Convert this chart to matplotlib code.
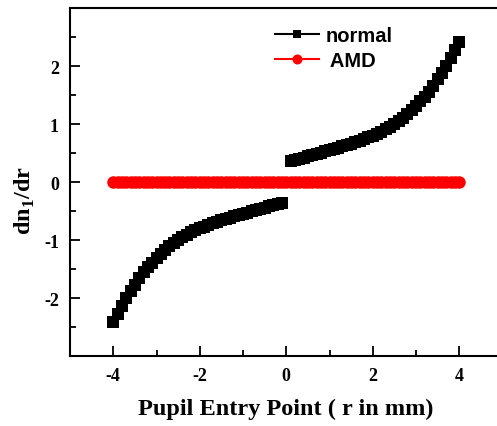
import matplotlib
matplotlib.use("Agg")
import matplotlib.pyplot as plt
from matplotlib.ticker import MultipleLocator

plt.rcParams["axes.unicode_minus"] = False
plt.rcParams["mathtext.fontset"] = "custom"
plt.rcParams["mathtext.bf"] = "Liberation Serif:bold"
plt.rcParams["mathtext.rm"] = "Liberation Serif:bold"

# ---- data ----
r_neg = [-4.0, -3.9, -3.8, -3.7, -3.6, -3.5, -3.4, -3.3, -3.2, -3.1,
         -3.0, -2.9, -2.8, -2.7, -2.6, -2.5, -2.4, -2.3, -2.2, -2.1,
         -2.0, -1.9, -1.8, -1.7, -1.6, -1.5, -1.4, -1.3, -1.2, -1.1,
         -1.0, -0.9, -0.8, -0.7, -0.6, -0.5, -0.4, -0.3, -0.2, -0.1]
normal_neg = [-2.42, -2.27, -2.13, -2.00, -1.88, -1.77, -1.66, -1.56, -1.47, -1.39,
              -1.31, -1.24, -1.17, -1.11, -1.05, -1.00, -0.95, -0.91, -0.87, -0.83,
              -0.80, -0.77, -0.74, -0.71, -0.69, -0.66, -0.64, -0.62, -0.59, -0.57,
              -0.55, -0.53, -0.50, -0.48, -0.46, -0.44, -0.42, -0.40, -0.38, -0.36]
r_pos = [0.1, 0.2, 0.3, 0.4, 0.5, 0.6, 0.7, 0.8, 0.9, 1.0,
         1.1, 1.2, 1.3, 1.4, 1.5, 1.6, 1.7, 1.8, 1.9, 2.0,
         2.1, 2.2, 2.3, 2.4, 2.5, 2.6, 2.7, 2.8, 2.9, 3.0,
         3.1, 3.2, 3.3, 3.4, 3.5, 3.6, 3.7, 3.8, 3.9, 4.0]
normal_pos = [0.36, 0.38, 0.40, 0.42, 0.44, 0.46, 0.48, 0.50, 0.53, 0.55,
              0.57, 0.59, 0.62, 0.64, 0.66, 0.69, 0.71, 0.74, 0.77, 0.80,
              0.83, 0.87, 0.91, 0.95, 1.00, 1.05, 1.11, 1.17, 1.24, 1.31,
              1.39, 1.47, 1.56, 1.66, 1.77, 1.88, 2.00, 2.13, 2.27, 2.42]
r_amd = r_neg + [0.0] + r_pos
amd = [0.0] * len(r_amd)

x_ticks = [-4, -2, 0, 2, 4]
y_ticks = [-2, -1, 0, 1, 2]

fig = plt.figure(figsize=(4.97, 4.27), dpi=100)
ax = fig.add_axes([70/497, 70/427, 432.5/497, 348/427])

ax.plot(r_neg, normal_neg, color="black", lw=1.5, marker="s", ms=8,
        markeredgewidth=0, label="normal")
ax.plot(r_pos, normal_pos, color="black", lw=1.5, marker="s", ms=8,
        markeredgewidth=0)
ax.plot(r_amd, amd, color="#ff0000", lw=1.5, marker="o", ms=9,
        markeredgewidth=0, label=" AMD")

ax.set_xlim(-5, 5)
ax.set_ylim(-3, 3)
ax.set_xticks(x_ticks)
ax.set_yticks(y_ticks)
ax.xaxis.set_minor_locator(MultipleLocator(1))
ax.yaxis.set_minor_locator(MultipleLocator(0.5))
ax.tick_params(which="both", direction="in", top=False, right=False, width=1.3)
ax.tick_params(which="major", length=7)
ax.tick_params(which="minor", length=4)
for s in ax.spines.values():
    s.set_linewidth(1.5)

serif = ["Liberation Serif", "DejaVu Serif"]
for lab in ax.get_xticklabels() + ax.get_yticklabels():
    lab.set_fontfamily(serif)
    lab.set_fontweight("bold")
    lab.set_fontsize(13)
ax.tick_params(axis="x", pad=8)
ax.tick_params(axis="y", pad=8)

ax.set_xlabel("Pupil Entry Point ( r in mm)", fontfamily=serif,
              fontweight="bold", fontsize=17.5, labelpad=10)
ax.set_ylabel("dn$_\\mathbf{1}$/dr", fontfamily=serif, fontweight="bold",
              fontsize=17.5)
ax.yaxis.set_label_coords(-0.077, 0.45)

leg = ax.legend(loc="upper left", bbox_to_anchor=(0.432, 1.0), frameon=False,
                prop={"family": "Liberation Sans", "weight": "bold", "size": 14.5},
                handlelength=2.2, handletextpad=0.3, labelspacing=0.3,
                markerscale=0.8)

fig.savefig("out.png", dpi=100)
